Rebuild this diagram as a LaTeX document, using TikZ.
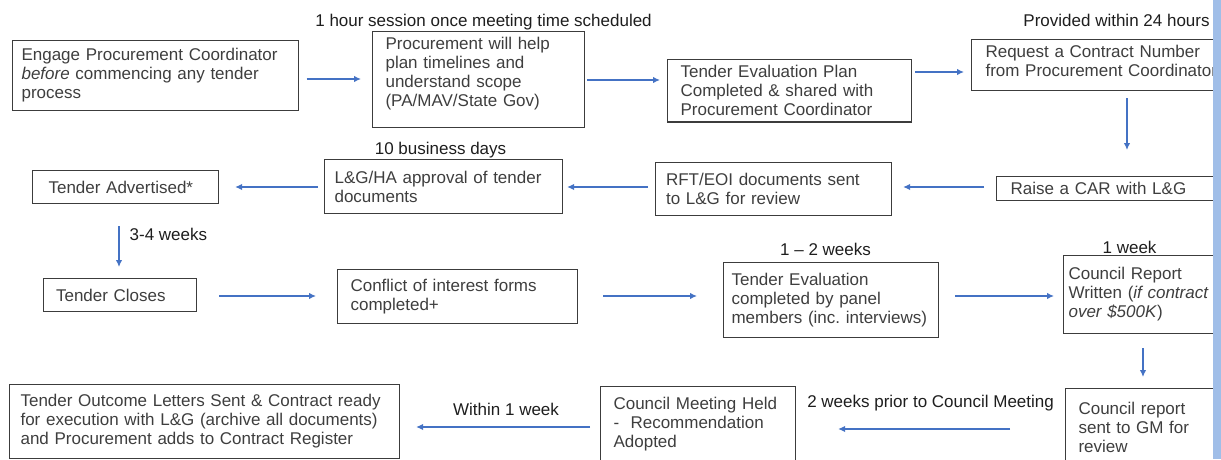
\documentclass[tikz,border=0pt]{standalone}
\usepackage{fontspec}
\setmainfont{Liberation Sans}
\usepackage{tikz}
\usetikzlibrary{arrows.meta,positioning}
\frenchspacing
\definecolor{BoxLine}{RGB}{60,60,60}
\definecolor{BoxText}{RGB}{62,62,62}
\definecolor{NoteText}{RGB}{30,30,30}
\definecolor{FlowBlue}{RGB}{68,114,196}
\definecolor{SideBar}{RGB}{160,190,232}
\tikzset{
  stepbox/.style={draw=BoxLine,line width=1.1pt,anchor=north west,align=left,
                  text=BoxText,inner xsep=12pt,inner ysep=6pt,
                  font=\fontsize{17}{19}\selectfont},
  note/.style={inner sep=0pt,text height=12pt,text depth=3.5pt,text=NoteText,
               font=\fontsize{17}{19}\selectfont},
  flow/.style={-{Latex[length=7pt,width=6.5pt]},line width=1.3pt,FlowBlue},
}

\begin{document}
\begin{tikzpicture}[x=1pt,y=-1pt,node distance=0pt]
  \useasboundingbox (0,0) rectangle (1221,459);
  \clip (0,0) rectangle (1221,459);

  \node[stepbox,inner xsep=9.5pt,text width=267pt,minimum height=70pt] (engage) at (11.5,40)
    {Engage Procurement Coordinator\\\textit{before} commencing any tender\\process};
  \node[stepbox,inner xsep=13pt,text width=186pt,text depth=71.6pt] (plan) at (372,31)
    {Procurement will help\\plan timelines and\\understand scope\\(PA/MAV/State Gov)};
  \node[stepbox,inner xsep=13pt,text width=218pt,minimum height=56pt] (tep) at (667,59)
    {Tender Evaluation Plan\\Completed \& shared with\\Procurement Coordinator};
  \node[stepbox,inner xsep=14pt,text width=232pt,text depth=26.6pt] (reqnum) at (971,39)
    {Request a Contract Number\\from Procurement Coordinator};

  \node[stepbox,inner xsep=14pt,inner ysep=5pt,text width=200pt,minimum height=24pt] (car) at (996,176)
    {Raise a CAR with L\&G};
  \node[stepbox,inner xsep=10.5pt,text width=215pt,minimum height=53pt] (rft) at (655,162)
    {RFT/EOI documents sent\\to L\&G for review};
  \node[stepbox,inner xsep=10pt,text width=218pt,minimum height=54pt] (lgha) at (324,159)
    {L\&G/HA approval of tender\\documents};
  \node[stepbox,inner xsep=16pt,text width=154pt,minimum height=33pt] (ta) at (32,170)
    {Tender Advertised*};

  \node[stepbox,inner xsep=12.5pt,text width=128pt,minimum height=33pt] (tc) at (43,278)
    {Tender Closes};
  \node[stepbox,inner xsep=13pt,text width=214pt,minimum height=54pt] (coi) at (337,269)
    {Conflict of interest forms\\completed+};
  \node[stepbox,inner xsep=8pt,text width=199pt,minimum height=75pt] (te) at (723,262)
    {Tender Evaluation\\completed by panel\\members (inc. interviews)};
  \node[stepbox,inner xsep=5pt,text width=160pt,minimum height=78pt] (cr) at (1063,255)
    {Council Report\\Written (\textit{if contract}\\\textit{over \$500K})};

  \node[stepbox,inner xsep=11pt,text width=368pt,minimum height=74pt] (tol) at (9,384)
    {Tender Outcome Letters Sent \& Contract ready\\for execution with L\&G (archive all documents)\\and Procurement adds to Contract Register};
  \node[stepbox,inner xsep=13pt,text width=169pt,minimum height=76pt] (cmh) at (600,386)
    {Council Meeting Held\\-\ \ Recommendation\\Adopted};
  \node[stepbox,inner xsep=13pt,text width=140pt,minimum height=78pt] (crgm) at (1065,388)
    {Council report\\sent to GM for\\review};

  \node[note,above=0.5pt of plan,xshift=5pt] (hourlbl) {1 hour session once meeting time scheduled};
  \node[note,above=8.5pt of reqnum,xshift=15pt] (providedlbl) {Provided within 24 hours};
  \node[note,above=0.5pt of lgha,xshift=-3pt] (bizlbl) {10 business days};
  \node[note,above=2.5pt of te,xshift=-5.5pt] (twolbl) {1 -- 2 weeks};
  \node[note,above=-2pt of cr,xshift=-19pt] (weeklbl) {1 week};

  \draw[flow,shorten <=8pt,shorten >=11pt] (engage.east |- 0,79) -- (plan.west |- 0,79);
  \draw[flow,shorten <=2pt,shorten >=7pt] (plan.east |- 0,80) -- (tep.west |- 0,80);
  \draw[flow,shorten <=3pt,shorten >=7pt] (tep.east |- 0,72) -- (reqnum.west |- 0,72);
  \draw[flow,shorten <=7pt,shorten >=26pt] (reqnum.south -| 1127,0) -- (car.north -| 1127,0);
  \draw[flow,shorten <=12pt,shorten >=11pt] (car.west |- 0,187) -- (rft.east |- 0,187);
  \draw[flow,shorten <=7pt,shorten >=4pt] (rft.west |- 0,187) -- (lgha.east |- 0,187);
  \draw[flow,shorten <=6pt,shorten >=16pt] (lgha.west |- 0,187) -- (ta.east |- 0,187);
  \draw[flow,shorten <=22pt,shorten >=11pt] (ta.south -| 119,0) -- (tc.north -| 119,0)
    node[note,pos=.44,right=10pt] (weekslbl) {3-4 weeks};
  \draw[flow,shorten <=22pt,shorten >=21pt] (tc.east |- 0,296) -- (coi.west |- 0,296);
  \draw[flow,shorten <=25pt,shorten >=26pt] (coi.east |- 0,296) -- (te.west |- 0,296);
  \draw[flow,shorten <=16pt,shorten >=9pt] (te.east |- 0,296) -- (cr.west |- 0,296);
  \draw[flow,shorten <=14pt,shorten >=11pt] (cr.south -| 1143,0) -- (crgm.north -| 1143,0);
  \draw[flow,shorten <=55pt,shorten >=42pt] (crgm.west |- 0,429) -- (cmh.east |- 0,429)
    node[note,midway,above=17.5pt] (priorlbl) {2 weeks prior to Council Meeting};
  \draw[flow,shorten <=10pt,shorten >=16pt] (cmh.west |- 0,427) -- (tol.east |- 0,427)
    node[note,pos=.47,above=7.5pt] (withinlbl) {Within 1 week};

  \fill[SideBar] (1213,0) rectangle (1221,459);
\end{tikzpicture}
\end{document}
